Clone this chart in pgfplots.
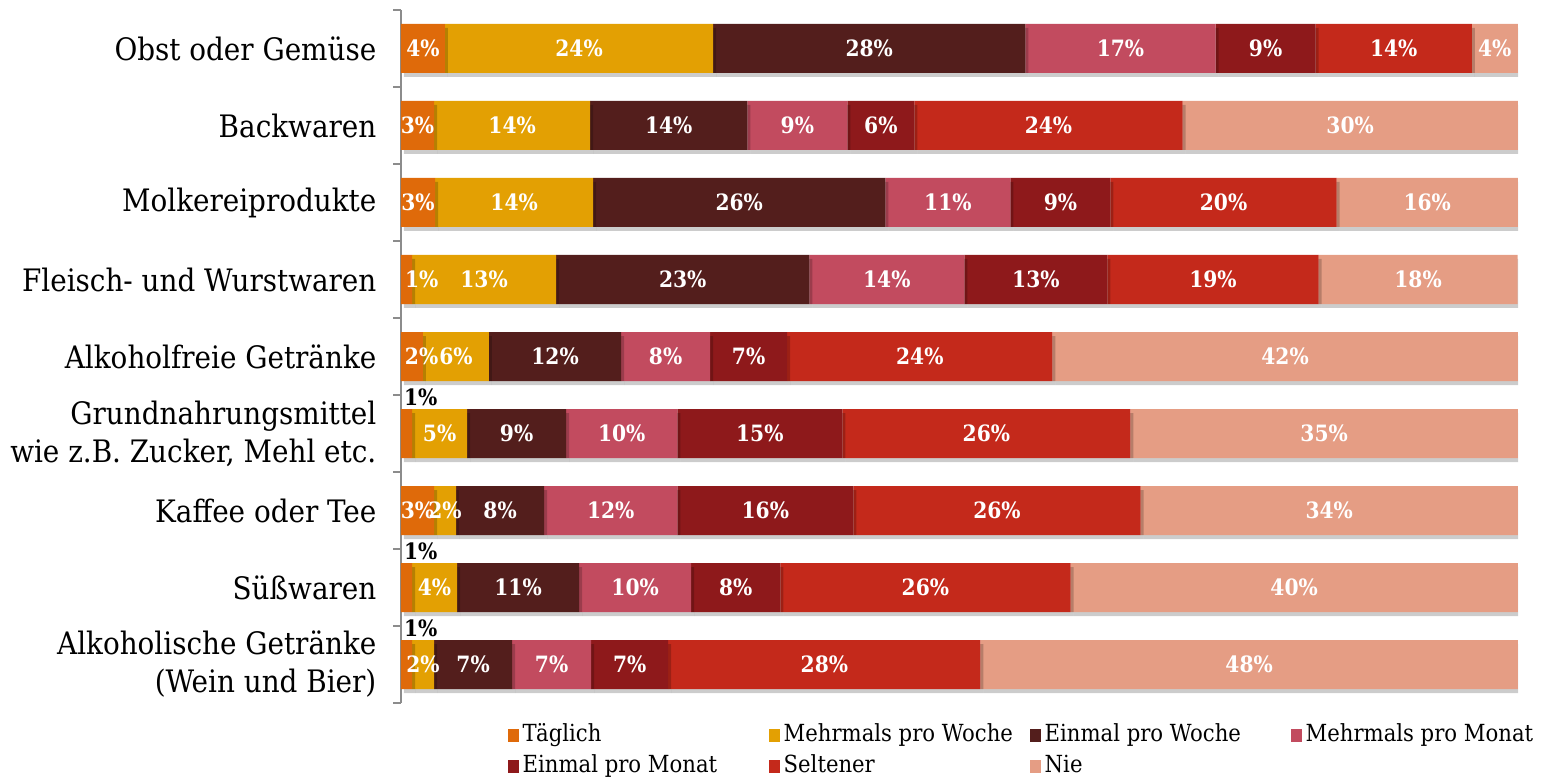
\documentclass[border=0pt]{standalone}
\usepackage{fontspec}
\setmainfont{DejaVu Serif Condensed}[BoldFont={DejaVu Serif Condensed Bold}]
\usepackage{pgfplots}
\pgfplotsset{compat=1.18}
\usepackage{pgfplotstable}
\usetikzlibrary{shadows}

\definecolor{cTag}{HTML}{DF6A0A}
\definecolor{cMWo}{HTML}{E3A003}
\definecolor{cEWo}{HTML}{531E1C}
\definecolor{cMMo}{HTML}{C24B5F}
\definecolor{cEMo}{HTML}{8E191B}
\definecolor{cSel}{HTML}{C4291B}
\definecolor{cNie}{HTML}{E59D84}

\makeatletter
\tikzset{noshadow/.code={\let\tikz@preactions\pgfutil@empty}}
\makeatother

% black "1%" above the bar for the tiny segments
\protected\def\blk{\makebox[0pt][l]{\hspace*{-0.25mm}\raisebox{2.8mm}[0pt][0pt]{\color{black}1\%}}}
% label pushed right so it starts at the bar's left end
\protected\def\lft#1#2{\makebox[0pt][l]{\hspace*{-#1mm}#2\%}}

% shares in percent, one row per category
\pgfplotstableread{
idx a    b     c     d     e     f     g     la
0   3.94 24.01 27.96 17.03 8.96  13.98 4.12  4\%
1   2.96 13.98 14.07 8.96  6.00  24.01 30.02 3\%
2   3.05 14.16 26.16 11.20 8.96  20.25 16.22 3\%
3   0.99 12.90 22.67 13.89 12.81 18.90 17.83 \lft{0.15}{1}
4   1.97 5.91  11.83 7.97  6.90  23.75 41.67 \lft{0.7}{2}
5   0.99 4.93  8.87  9.95  14.78 25.80 34.68 \blk
6   2.96 1.97  7.89  11.92 15.77 25.72 33.77 3\%
7   0.99 4.03  10.93 10.04 7.97  25.99 40.05 \blk
8   0.99 1.97  6.99  7.08  6.90  27.96 48.11 \blk
}\shares

\newcommand\seg[2]{%
\addplot[fill=#1, draw=none,
  drop shadow={shadow xshift=0.3mm, shadow yshift=-0.4mm, fill=black, opacity=0.2},
  point meta=\thisrow{#2},
  nodes near coords={\pgfmathprintnumber[fixed,precision=0,assume math mode=true]{\pgfplotspointmeta}\%}]
  table[x=#2, y=idx]{\shares};}

\begin{document}
\begin{tikzpicture}
\begin{axis}[
  scale only axis, width=11.17cm, height=6.93cm,
  xbar stacked, bar width=4.9mm,
  xmin=0, xmax=100.02, ymin=-0.5, ymax=8.5, y dir=reverse,
  hide x axis, axis y line*=left,
  y axis line style={line width=0.85pt, color=gray!90},
  ytick={0,...,8},
  yticklabels={Obst oder Gemüse, Backwaren, Molkereiprodukte,
    Fleisch- und Wurstwaren, Alkoholfreie Getränke,
    {Grundnahrungsmittel\\wie z.B. Zucker, Mehl etc.},
    Kaffee oder Tee, Süßwaren, {Alkoholische Getränke\\(Wein und Bier)}},
  major tick length=0pt,
  minor ytick={-0.5,0.5,...,8.5}, minor tick length=0.75mm, tick align=outside,
  every minor tick/.append style={line width=0.85pt, gray!90},
  yticklabel style={font=\fontsize{8.8}{10.8}\selectfont, align=right, inner sep=0pt, xshift=-2.4mm},
  nodes near coords align={center},
  every node near coord/.append style={anchor=center, inner sep=0pt, text=white,
    font=\fontsize{6.4}{7}\selectfont\bfseries},
  legend columns=4,
  legend style={at={(0.0949,-0.023)}, anchor=north west, draw=none, fill=none,
    inner sep=0pt, row sep=0pt, nodes={inner sep=0.4mm},
    font=\fontsize{6.7}{8}\selectfont,
    /tikz/every odd column/.append style={column sep=0mm}},
  legend image code/.code={\fill[#1, noshadow] (0mm,-0.65mm) rectangle (1.1mm,0.65mm);},
]
\addplot[fill=cTag, draw=none,
  drop shadow={shadow xshift=0.3mm, shadow yshift=-0.4mm, fill=black, opacity=0.2},
  point meta=explicit symbolic,
  nodes near coords={\pgfplotspointmeta}]
  table[x=a, y=idx, meta=la]{\shares};
\seg{cMWo}{b}
\seg{cEWo}{c}
\seg{cMMo}{d}
\seg{cEMo}{e}
\seg{cSel}{f}
\seg{cNie}{g}
\legend{\makebox[2.42cm][l]{Täglich}, \makebox[2.42cm][l]{Mehrmals pro Woche},
  \makebox[2.42cm][l]{Einmal pro Woche}, \makebox[2.42cm][l]{Mehrmals pro Monat},
  \makebox[2.42cm][l]{Einmal pro Monat}, \makebox[2.42cm][l]{Seltener},
  \makebox[2.42cm][l]{Nie}}
\end{axis}
\pgfresetboundingbox
\path[use as bounding box] ([shift={(-4.01cm,-0.74cm)}]current axis.south west) rectangle ++(15.41cm,7.77cm);
\end{tikzpicture}
\end{document}
